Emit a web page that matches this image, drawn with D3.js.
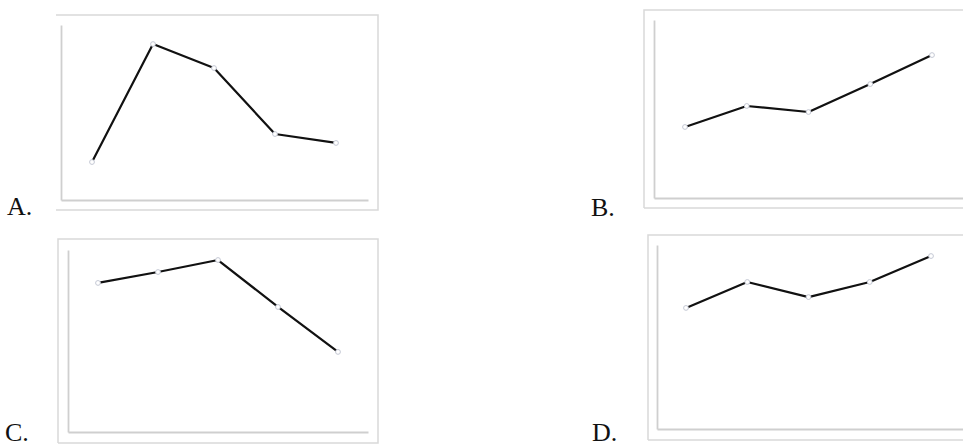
<!DOCTYPE html>
<html>
<head>
<meta charset="utf-8">
<script src="https://cdn.jsdelivr.net/npm/d3@7"></script>
<style>
html,body{margin:0;padding:0;background:#fff;}
svg{display:block;}
</style>
</head>
<body>
<svg id="chart" width="963" height="447"></svg>
<script>
// Data
const categories = ["1", "2", "3", "4", "5"];
const panelLabels = ["A.", "B.", "C.", "D."];
const valuesA = [2.17, 8.91, 7.54, 3.77, 3.26];
const valuesB = [3.99, 5.17, 4.83, 6.40, 8.03];
const valuesC = [8.19, 8.79, 9.45, 6.87, 4.40];
const valuesD = [6.58, 7.99, 7.17, 7.99, 9.40];
const yDomain = [0, 10];

// Layout (positions only)
const layout = [
  {vals: valuesA, label: [7, 215], outer: {x0: 56, y0: 15, x1: 378, y1: 210, left: false},
   axis: {x: 61, top: 25, bottom: 200, right: 368}, xr: [92, 336]},
  {vals: valuesB, label: [591, 216], outer: {x0: 644, y0: 10, x1: 975, y1: 208, left: true},
   axis: {x: 654, top: 20, bottom: 198, right: 975}, xr: [685, 932]},
  {vals: valuesC, label: [5, 441], outer: {x0: 58, y0: 239, x1: 378, y1: 443, left: true},
   axis: {x: 68, top: 250, bottom: 432, right: 368}, xr: [98, 338]},
  {vals: valuesD, label: [592, 441], outer: {x0: 648, y0: 235, x1: 975, y1: 440, left: true},
   axis: {x: 657, top: 245, bottom: 429, right: 975}, xr: [686, 931]}
];

const svg = d3.select("#chart");
const frameColor = "#d9d9d9";
const axisColor = "#cfcfcf";

layout.forEach((p, i) => {
  const g = svg.append("g");
  const o = p.outer;
  // outer frame
  const framePath = d3.path();
  if (o.left) { framePath.moveTo(o.x0, o.y1); framePath.lineTo(o.x0, o.y0); }
  else { framePath.moveTo(o.x0, o.y0); }
  framePath.lineTo(o.x1, o.y0);
  framePath.lineTo(o.x1, o.y1);
  framePath.lineTo(o.x0, o.y1);
  g.append("path").attr("d", framePath.toString())
    .attr("fill", "none").attr("stroke", frameColor).attr("stroke-width", 1.5);

  // scales
  const x = d3.scalePoint().domain(categories).range(p.xr);
  const y = d3.scaleLinear().domain(yDomain).range([p.axis.bottom, p.axis.top]);

  // inner axes (no ticks, no labels)
  const yAxis = d3.axisLeft(y).tickValues([]).tickSizeOuter(0);
  g.append("g").attr("transform", `translate(${p.axis.x},0)`).call(yAxis)
    .call(s => s.select(".domain").attr("stroke", axisColor).attr("stroke-width", 1.8));
  const xAxisScale = d3.scaleLinear().range([p.axis.x, p.axis.right]);
  const xAxis = d3.axisBottom(xAxisScale).tickValues([]).tickSizeOuter(0);
  g.append("g").attr("transform", `translate(0,${p.axis.bottom})`).call(xAxis)
    .call(s => s.select(".domain").attr("stroke", axisColor).attr("stroke-width", 1.8));

  // line
  const line = d3.line().x((d, j) => x(categories[j])).y(d => y(d));
  g.append("path").datum(p.vals).attr("d", line)
    .attr("fill", "none").attr("stroke", "#111").attr("stroke-width", 2.2)
    .attr("stroke-linejoin", "round");

  // markers
  g.selectAll("circle").data(p.vals).join("circle")
    .attr("cx", (d, j) => x(categories[j])).attr("cy", d => y(d)).attr("r", 2.4)
    .attr("fill", "#fff").attr("stroke", "#c4c8d4").attr("stroke-width", 1);

  // label
  svg.append("text").attr("x", p.label[0]).attr("y", p.label[1])
    .attr("font-family", "'Liberation Serif', 'DejaVu Serif', serif")
    .attr("font-size", 26).attr("fill", "#111")
    .text(panelLabels[i]);
});
</script>
</body>
</html>
